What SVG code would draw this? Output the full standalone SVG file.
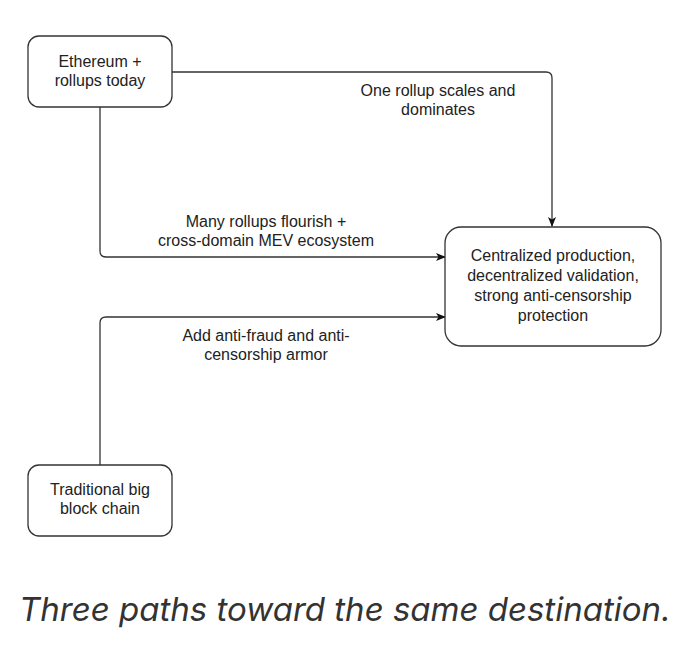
<svg xmlns="http://www.w3.org/2000/svg" width="680" height="650" viewBox="0 0 680 650">
  <style>
    .box { fill: #ffffff; stroke: #333333; stroke-width: 1.3; }
    .lbl { font-family: "Liberation Sans", Arial, sans-serif; font-size: 16px; fill: #222222; text-anchor: middle; }
    .edge { fill: none; stroke: #333333; stroke-width: 1.3; }
    .cap { font-family: Inter, "Noto Sans", sans-serif; font-size: 33px; font-style: italic; fill: #333333; }
  </style>
  <defs>
    <marker id="arr" viewBox="0 0 10 10" refX="9" refY="5" markerWidth="10" markerHeight="10" markerUnits="userSpaceOnUse" orient="auto">
      <path d="M0,1 L10,5 L0,9 L2.5,5 Z" fill="#111111"/>
    </marker>
  </defs>
  <rect width="680" height="650" fill="#ffffff"/>
  <g id="connectors">
    <path class="edge" d="M172,72 H546 Q552,72 552,78 V226" marker-end="url(#arr)"/>
    <path class="edge" d="M100,107 V251 Q100,257 106,257 H445" marker-end="url(#arr)"/>
    <path class="edge" d="M100,465 V323 Q100,317 106,317 H445" marker-end="url(#arr)"/>
    <text class="lbl" x="438" y="96">One rollup scales and</text>
    <text class="lbl" x="438" y="115">dominates</text>
    <text class="lbl" x="266" y="227">Many rollups flourish +</text>
    <text class="lbl" x="266" y="246">cross-domain MEV ecosystem</text>
    <text class="lbl" x="266" y="341">Add anti-fraud and anti-</text>
    <text class="lbl" x="266" y="360">censorship armor</text>
  </g>
  <g id="n1">
    <rect class="box" x="28" y="36" width="144" height="71" rx="11"/>
    <text class="lbl" x="100" y="67">Ethereum +</text>
    <text class="lbl" x="100" y="86">rollups today</text>
  </g>
  <g id="n2">
    <rect class="box" x="445" y="227" width="216" height="119" rx="16"/>
    <text class="lbl" x="553" y="261">Centralized production,</text>
    <text class="lbl" x="553" y="281">decentralized validation,</text>
    <text class="lbl" x="553" y="301">strong anti-censorship</text>
    <text class="lbl" x="553" y="321">protection</text>
  </g>
  <g id="n3">
    <rect class="box" x="28" y="465" width="144" height="71" rx="11"/>
    <text class="lbl" x="100" y="495">Traditional big</text>
    <text class="lbl" x="100" y="514">block chain</text>
  </g>
  <text class="cap" x="19" y="621">Three paths toward the same destination.</text>
</svg>
